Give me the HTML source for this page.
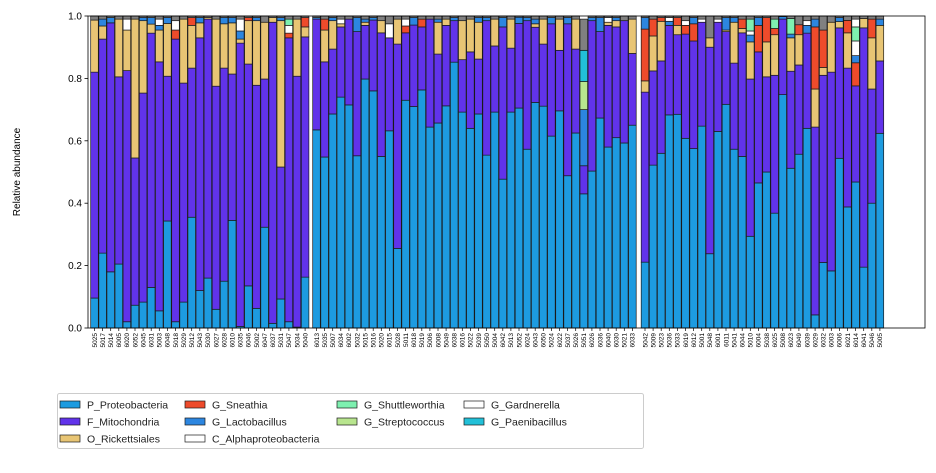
<!DOCTYPE html>
<html><head><meta charset="utf-8"><style>
body{margin:0;background:#fff;}
svg text{font-family:"Liberation Sans","DejaVu Sans",sans-serif;}
</style></head><body>
<svg id="chart" width="936" height="468" viewBox="0 0 936 468" xmlns="http://www.w3.org/2000/svg">
<rect x="0" y="0" width="936" height="468" fill="#fff"/>
<g id="bars"></g>
<rect x="88" y="16" width="837" height="312" fill="none" stroke="#000" stroke-width="0.8"/>
<g id="yaxis"></g>
<g id="xaxis"></g>
<text transform="translate(20,172) rotate(-90)" text-anchor="middle" font-size="10">Relative abundance</text>
<g id="legend"></g>
</svg>
<script>
const samples1 = ["5025","5017","5014","6005","6020","6052","6045","6031","5003","6048","5018","5029","5012","5043","5030","6027","6028","6010","6035","6046","5002","6047","6037","5031","5047","5034","5040"];
const samples2 = ["6013","5035","5007","6034","6002","5032","5015","5016","5020","6015","5028","5011","6018","5019","5006","6008","5049","6038","6016","5022","5039","5050","5004","6042","5013","5052","6024","6043","6050","5024","6022","5037","5026","5051","6026","6036","6040","6030","5021","6033"];
const samples3 = ["5042","5009","5023","5036","5033","6019","6012","5001","5048","6001","6011","5041","6044","5010","6004","5038","6025","5008","6023","6049","6039","6029","6032","6003","6006","6021","6014","6041","5046","5005"];
const yTicks = [0,0.2,0.4,0.6,0.8,1.0];
const yTickLabels = ["0.0","0.2","0.4","0.6","0.8","1.0"];
const seriesNames = ["P_Proteobacteria","F_Mitochondria","O_Rickettsiales","G_Sneathia","G_Lactobacillus","C_Alphaproteobacteria","G_Shuttleworthia","G_Streptococcus","G_Gardnerella","G_Paenibacillus","Other"];
const seriesColors = ["#1d9be0","#6133ea","#e8c574","#ee4b2b","#2c86e0","#ffffff","#7ef0b0","#b8e58e","#ffffff","#22c0d8","#808080"];
const proteobacteria = [.096,.24,.18,.205,.02,.073,.083,.13,.055,.343,.02,.083,.355,.12,.16,.06,.15,.345,.005,.135,.063,.323,.015,.093,.02,.003,.163,
 .635,.548,.686,.74,.715,.552,.798,.76,.55,.632,.255,.73,.71,.763,.644,.657,.712,.852,.692,.64,.686,.554,.692,.477,.692,.705,.573,.723,.711,.615,.696,.488,.625,.43,.503,.673,.58,.61,.593,.65,
 .211,.522,.56,.683,.685,.608,.575,.647,.238,.63,.717,.573,.55,.294,.465,.5,.368,.748,.512,.557,.64,.042,.21,.183,.544,.388,.468,.195,.4,.624];
const mitochondria = [.724,.686,.798,.6,.805,.472,.67,.815,.798,.464,.906,.702,.478,.81,.83,.715,.683,.469,.908,.711,.715,.475,.965,.423,.91,.804,.77,
 .355,.305,.208,.225,.275,.398,.172,.227,.396,.298,.655,.216,.261,.202,.346,.221,.258,.133,.168,.245,.176,.431,.212,.488,.205,.271,.412,.241,.199,.36,.194,.487,.269,.09,.482,.277,.39,.355,.392,.23,
 .545,.302,.296,.287,.255,.334,.345,.333,.662,.35,.233,.276,.396,.504,.42,.305,.442,.242,.311,.286,.305,.602,.6,.637,.418,.445,.308,.767,.366,.232];
const rickettsiales = [.167,.042,0,.185,.13,.445,.232,.029,.102,.169,0,.205,.137,.048,.005,.215,.142,.164,.013,.139,.207,.182,.015,.469,0,.183,.032,
 0,.102,.091,.01,0,0,.01,0,.039,0,.08,0,0,0,0,.102,.02,0,.125,.105,.118,0,.086,0,.093,0,0,.011,.08,0,.1,0,.096,0,0,0,.01,.02,0,.11,
 .036,.112,.127,0,.03,0,0,0,.03,0,.005,.131,.014,.119,0,.112,.13,0,.107,.097,0,.122,.025,.16,.02,.113,0,.03,.164,.114];
const sneathia = [0,0,0,0,0,0,0,0,0,0,.029,0,.025,0,0,0,0,0,0,.01,0,0,0,0,.015,0,.03,
 0,.035,0,0,0,0,0,0,0,0,0,.022,0,.025,0,0,0,0,0,0,0,0,0,0,0,0,0,0,0,0,0,0,0,0,0,0,0,0,0,0,
 .166,.054,.012,0,.025,.028,.055,0,0,0,0,0,.03,0,.085,.078,.02,0,0,.032,0,.199,.12,0,0,.04,.074,0,.06,0];
const lactobacillus = [0,.022,.017,0,0,0,.01,.021,.015,.019,0,0,0,.017,0,0,.02,.017,.026,0,.01,0,0,.01,0,0,0,
 .005,0,.01,0,0,.045,.01,.008,0,0,0,0,.024,0,0,.01,0,.01,0,0,.015,.01,0,.03,0,.02,.01,.015,0,.02,0,.02,0,.18,.01,.045,0,.01,0,0,
 .037,0,0,.013,0,0,.02,0,0,0,.04,.015,0,.022,.025,0,0,.008,.012,0,.025,.025,0,0,.013,0,.023,0,0,.02];
const alphaproteobacteria = [0,0,0,0,.035,0,0,0,.02,0,.03,0,0,0,0,0,0,0,.038,0,0,0,0,0,.025,0,0,
 0,0,0,.015,0,0,0,0,0,.045,0,.022,0,0,0,0,0,0,0,0,0,0,0,0,0,0,0,0,0,0,0,0,0,0,0,0,.015,0,0,0,
 0,0,0,.012,0,.015,0,.01,0,.01,0,0,0,.013,0,0,0,0,0,0,.015,0,0,0,0,0,.047,0,0,0];
const shuttleworthia = [0,0,0,0,0,0,0,0,0,0,0,0,0,0,0,0,0,0,0,0,0,0,0,0,.02,0,0,
 0,0,0,0,0,0,0,0,0,0,0,0,0,0,0,0,0,0,0,0,0,0,0,0,0,0,0,0,0,0,0,0,0,0,0,0,0,0,0,0,
 0,0,0,0,0,0,0,0,0,0,0,0,0,.038,0,0,.03,0,.05,0,0,0,0,0,0,0,.045,0,0,0];
const streptococcus = [0,0,0,0,0,0,0,0,0,0,0,0,0,0,0,0,0,0,0,0,0,0,0,0,0,0,0,
 0,0,0,0,0,0,0,0,0,0,0,0,0,0,0,0,0,0,0,0,0,0,0,0,0,0,0,0,0,0,0,0,0,.09,0,0,0,0,0,0,
 0,0,0,0,0,0,0,0,0,0,0,0,0,0,0,0,0,0,0,0,0,0,0,0,0,0,0,0,0,0];
const gardnerella = [0,0,0,0,0,0,0,0,0,0,0,0,0,0,0,0,0,0,0,0,0,0,0,0,0,0,0,
 0,0,0,0,0,0,0,0,0,0,0,0,0,0,0,0,0,0,0,0,0,0,0,0,0,0,0,0,0,0,0,0,0,0,0,0,0,0,0,0,
 0,0,0,0,0,0,0,0,0,0,0,0,0,0,0,0,0,0,0,0,0,0,0,0,0,0,.025,0,0,0];
const paenibacillus = [0,0,0,0,0,0,0,0,0,0,0,0,0,0,0,0,0,0,0,0,0,0,0,0,0,0,0,
 0,0,0,0,0,0,0,0,0,0,0,0,0,0,0,0,0,0,0,0,0,0,0,0,0,0,0,0,0,0,0,0,0,.1,0,0,0,0,0,0,
 0,0,0,0,0,0,0,0,0,0,0,0,0,0,0,0,0,0,0,0,0,0,0,0,0,0,0,0,0,0];
const other = [.013,.01,.005,.01,.01,.01,.005,.005,.01,.005,.015,.01,.005,.005,.005,.01,.005,.005,.01,.005,.005,.02,.005,.005,.01,.01,.005,
 .005,.01,.005,.01,.01,.005,.01,.005,.015,.025,.01,.01,.005,.01,.01,.01,.01,.005,.015,.01,.005,.005,.01,.005,.01,.004,.005,.01,.01,.005,.01,.005,.01,.1,.005,.005,.005,.005,.015,.01,
 .005,.01,.005,.005,.005,.015,.005,.01,.07,.01,.005,.005,.01,.01,.005,.005,.01,.002,.008,.028,.015,.01,.045,.02,.005,.014,.01,.008,.01,.01];

const series = [proteobacteria,mitochondria,rickettsiales,sneathia,lactobacillus,alphaproteobacteria,shuttleworthia,streptococcus,gardnerella,paenibacillus,other];
const NS = "http://www.w3.org/2000/svg";
const X0 = 88, X1 = 925, Y0 = 328, Y1 = 16;
const slot = 8.1;
function yScale(v){ return Y0 - v*(Y0-Y1); }
const groups = [samples1, samples2, samples3];
const groupStart = [94.5, 316.5, 645];
const xs = [], labels = [];
groups.forEach((g,gi)=>g.forEach((s,i)=>{ xs.push(groupStart[gi]+i*slot); labels.push(s); }));
function mk(tag, attrs, parent){ const e=document.createElementNS(NS,tag); for(const k in attrs) e.setAttribute(k,attrs[k]); parent.appendChild(e); return e; }

const barsG = document.getElementById('bars');
const bw = 7.6;
labels.forEach((lab,i)=>{
  let cum = 0;
  series.forEach((arr,si)=>{
    const v = arr[i];
    if(!v) return;
    const r = mk('rect',{x:(xs[i]-bw/2).toFixed(2), y:yScale(cum+v).toFixed(2), width:bw, height:(v*(Y0-Y1)).toFixed(2), fill:seriesColors[si], stroke:'#1a1a1a','stroke-width':0.7}, barsG);
    
    
    cum += v;
  });
});

const ya = document.getElementById('yaxis');
yTicks.forEach((t,i)=>{
  const y = yScale(t);
  const l = mk('line',{x1:X0-3.5,x2:X0,y1:y,y2:y,stroke:'#000','stroke-width':0.8},ya);
  
  
  const tx = mk('text',{x:X0-6,y:y+3.5,'text-anchor':'end','font-size':10},ya);
  
  
  tx.textContent = yTickLabels[i];
});

const xa = document.getElementById('xaxis');
labels.forEach((lab,i)=>{
  const x = xs[i];
  const l = mk('line',{x1:x,x2:x,y1:Y0,y2:Y0+3,stroke:'#000','stroke-width':0.7},xa);
  
  
  const tx = mk('text',{transform:`translate(${(x+2.3).toFixed(2)},${Y0+5}) rotate(-90)`,'text-anchor':'end','font-size':6.5},xa);
  
  
  tx.textContent = lab;
});

const lg = document.getElementById('legend');
const box = mk('rect',{x:57.5,y:393.5,width:586,height:55,rx:2,fill:'#fff',stroke:'#ccc','stroke-width':1},lg);


const legendOrder = [0,1,2,3,4,5,6,7,8,9];
const colX = [60,185,337,464];
legendOrder.forEach((si,k)=>{
  let col, row;
  if(k<3){col=0;row=k;} else if(k<6){col=1;row=k-3;} else if(k<8){col=2;row=k-6;} else {col=3;row=k-8;}
  const y = 405 + row*17;
  const g = mk('g',{},lg);
  
  
  mk('rect',{x:colX[col],y:y-4,width:20,height:7,fill:seriesColors[si],stroke:'#1a1a1a','stroke-width':0.7},g);
  const t = mk('text',{x:colX[col]+27,y:y+3.5,'font-size':10.5,fill:'#222'},g);
  t.textContent = seriesNames[si];
});
</script>
</body></html>
